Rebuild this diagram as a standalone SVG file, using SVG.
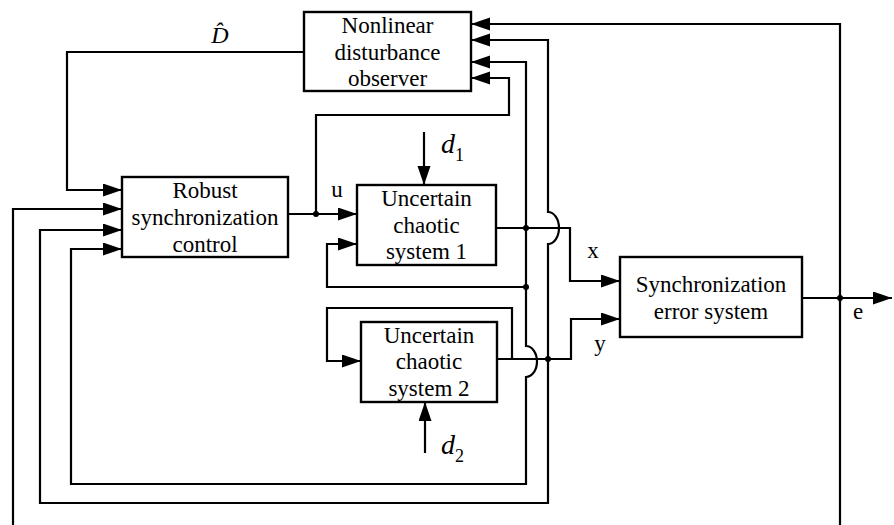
<svg xmlns="http://www.w3.org/2000/svg" width="894" height="525" viewBox="0 0 894 525">
  <style>
    .box { fill: #fff; stroke: #000; stroke-width: 2.4; }
    text { font-family: 'Liberation Serif', 'DejaVu Serif', serif; fill: #000; }
    .lbl { font-size: 23px; text-anchor: middle; }
    .sig { font-size: 23px; text-anchor: middle; }
    .it { font-style: italic; }
    .wire { fill: none; stroke: #000; stroke-width: 2.2; stroke-linejoin: miter; }
    .arr { marker-end: url(#head); }
  </style>
  <defs>
    <marker id="head" markerUnits="userSpaceOnUse" markerWidth="20" markerHeight="14" refX="19" refY="6.5" orient="auto">
      <path d="M0,0 L19,6.5 L0,13 z" fill="#000"/>
    </marker>
  </defs>
  <rect width="894" height="525" fill="#fff"/>

  <g id="connectors">
    <!-- estimated disturbance back to the controller -->
    <path class="wire arr" d="M304,52 H67 V190 H122"/>
    <!-- control signal u -->
    <path class="wire arr" d="M288,214 H357"/>
    <path class="wire arr" d="M316,214 V115 H509 V78 H471"/>
    <!-- disturbances -->
    <path class="wire arr" d="M424,132 V185"/>
    <path class="wire arr" d="M425,453 V402"/>
    <!-- state x of system 1 -->
    <path class="wire arr" d="M496,228 H570 V281 H620"/>
    <path class="wire arr" d="M526,228 V62 H471"/>
    <path class="wire arr" d="M526,228 V287 H327 V244 H357"/>
    <path class="wire arr" d="M526,287 V346 A11,15.5 0 0 1 526,377 V484 H71 V249 H122"/>
    <!-- state y of system 2 -->
    <path class="wire arr" d="M497,359 H571 V319 H620"/>
    <path class="wire arr" d="M512,359 V308 H327 V361 H361"/>
    <path class="wire arr" d="M548,359 V244 A11,16 0 0 0 548,212 V40 H471"/>
    <path class="wire arr" d="M548,359 V503 H40 V230 H122"/>
    <!-- synchronization error e -->
    <path class="wire arr" d="M802,298 H892"/>
    <path class="wire arr" d="M840,525 V24 H471"/>
    <path class="wire arr" d="M13,525 V209 H122"/>
    <!-- junction dots -->
    <circle cx="316" cy="214" r="3"/>
    <circle cx="526" cy="228" r="3"/>
    <circle cx="526" cy="287" r="3"/>
    <circle cx="548" cy="359" r="3"/>
    <circle cx="840" cy="298" r="3"/>
    <!-- signal labels -->
    <text class="it" x="220" y="43" font-size="24" text-anchor="middle">D&#x302;</text>
    <text class="sig" x="337" y="197">u</text>
    <text class="sig" x="593" y="258">x</text>
    <text class="sig" x="600" y="351">y</text>
    <text class="sig" x="858" y="319">e</text>
    <text class="it" x="441" y="153" font-size="28">d<tspan font-style="normal" font-size="18" dy="8">1</tspan></text>
    <text class="it" x="441" y="454" font-size="28">d<tspan font-style="normal" font-size="18" dy="8">2</tspan></text>
  </g>

  <g id="observer">
    <rect class="box" x="304" y="12" width="167" height="79"/>
    <text class="lbl" x="387.5" y="33">Nonlinear</text>
    <text class="lbl" x="387.5" y="60">disturbance</text>
    <text class="lbl" x="387.5" y="86">observer</text>
  </g>

  <g id="controller">
    <rect class="box" x="122" y="177" width="166" height="80"/>
    <text class="lbl" x="205" y="198">Robust</text>
    <text class="lbl" x="205" y="225">synchronization</text>
    <text class="lbl" x="205" y="252">control</text>
  </g>

  <g id="system1">
    <rect class="box" x="357" y="185" width="139" height="80"/>
    <text class="lbl" x="426.5" y="206">Uncertain</text>
    <text class="lbl" x="426.5" y="233">chaotic</text>
    <text class="lbl" x="426.5" y="259">system 1</text>
  </g>

  <g id="system2">
    <rect class="box" x="361" y="322" width="136" height="80"/>
    <text class="lbl" x="429" y="343">Uncertain</text>
    <text class="lbl" x="429" y="369">chaotic</text>
    <text class="lbl" x="429" y="396">system 2</text>
  </g>

  <g id="error-system">
    <rect class="box" x="620" y="257" width="182" height="80"/>
    <text class="lbl" x="711" y="292">Synchronization</text>
    <text class="lbl" x="711" y="319">error system</text>
  </g>
</svg>
